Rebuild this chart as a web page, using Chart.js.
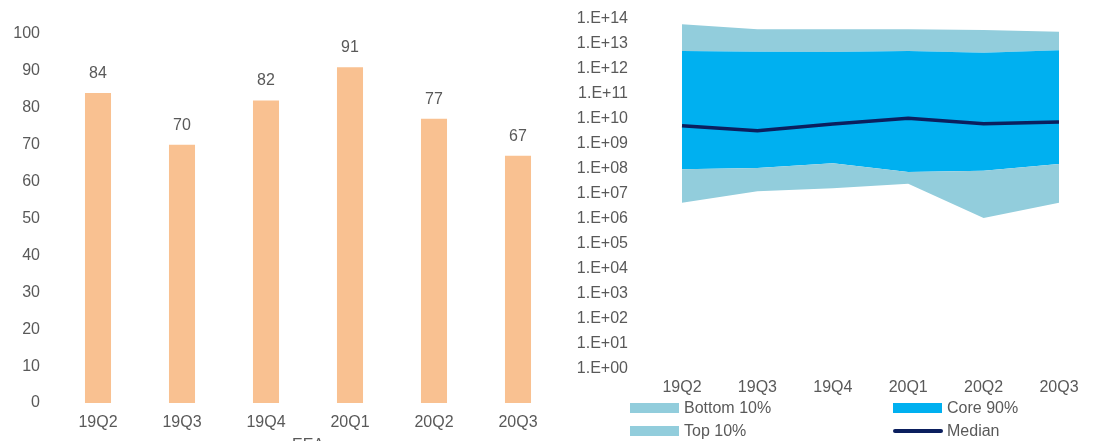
<!DOCTYPE html>
<html>
<head>
<meta charset="utf-8">
<script src="https://cdn.jsdelivr.net/npm/chart.js@4"></script>
<style>
  html, body { margin: 0; padding: 0; background: #fff; overflow: hidden; width: 1113px; height: 441px; }
  #left { position: absolute; left: 0; top: 0; width: 565px; height: 455px; }
  #right { position: absolute; left: 565px; top: 0; width: 548px; height: 441px; }
  .leg { position: absolute; font-family: "Liberation Sans", Arial, sans-serif; font-size: 16px; color: #595959; line-height: 18px; }
  .leg .box { position: absolute; left: 0; top: 4px; width: 49px; height: 10px; }
  .leg .ln { position: absolute; left: 0; top: 7px; width: 50px; height: 4px; border-radius: 2px; }
  .leg span { position: absolute; left: 54px; top: 0; white-space: nowrap; }
</style>
</head>
<body>
<div id="left"><canvas id="barChart"></canvas></div>
<div id="right"><canvas id="bandChart"></canvas></div>
<div id="legend"></div>
<script>
// ---- data ----
const quarters = ['19Q2', '19Q3', '19Q4', '20Q1', '20Q2', '20Q3'];
const eeaValues = [84, 70, 82, 91, 77, 67];

const bottom10Low = [4.5e6, 1.3e7, 1.7e7, 2.6e7, 1.1e6, 4.5e6];
const coreLow = [9.8e7, 1.1e8, 1.7e8, 7.6e7, 8.5e7, 1.6e8];
const coreHigh = [5.2e12, 4.9e12, 4.8e12, 5.2e12, 4.5e12, 5.6e12];
const top10High = [6.2e13, 3.9e13, 3.9e13, 3.9e13, 3.6e13, 3.1e13];
const medianValues = [5.4e9, 3.4e9, 6.3e9, 1.07e10, 6.5e9, 7.6e9];

const logTicks = [1, 1e1, 1e2, 1e3, 1e4, 1e5, 1e6, 1e7, 1e8, 1e9, 1e10, 1e11, 1e12, 1e13, 1e14];

const textColor = '#595959';
const font = { family: '"Liberation Sans", Arial, sans-serif', size: 16 };

Chart.defaults.font.family = font.family;
Chart.defaults.font.size = 16;
Chart.defaults.color = textColor;
Chart.defaults.animation = false;

// labels above the bars
const barLabels = {
  id: 'barLabels',
  afterDatasetsDraw(chart) {
    const ctx = chart.ctx;
    const meta = chart.getDatasetMeta(0);
    ctx.save();
    ctx.fillStyle = textColor;
    ctx.font = '16px ' + font.family;
    ctx.textAlign = 'center';
    ctx.textBaseline = 'alphabetic';
    meta.data.forEach((bar, i) => {
      ctx.fillText(String(eeaValues[i]), bar.x, bar.y - 15);
    });
    ctx.restore();
  }
};

new Chart(document.getElementById('barChart'), {
  type: 'bar',
  data: {
    labels: quarters,
    datasets: [{
      data: eeaValues,
      backgroundColor: '#F9C191',
      borderWidth: 0,
      barPercentage: 0.31,
      categoryPercentage: 1
    }]
  },
  options: {
    responsive: true,
    maintainAspectRatio: false,
    devicePixelRatio: 1,
    layout: { padding: { top: 34, right: 5, left: 0, bottom: 0 } },
    plugins: { legend: { display: false }, tooltip: { enabled: false } },
    scales: {
      x: {
        grid: { display: false, drawTicks: false },
        border: { display: false },
        ticks: { padding: 10, maxRotation: 0 },
        title: { display: true, text: 'EEA', padding: 0, color: textColor, font: font },
        afterFit(scale) { scale.height = 52; }
      },
      y: {
        min: 0,
        max: 100,
        grid: { display: false, drawTicks: false },
        border: { display: false },
        ticks: { stepSize: 10, padding: 16 },
        afterFit(scale) { scale.width = 56; }
      }
    }
  },
  plugins: [barLabels]
});

const bandChart = new Chart(document.getElementById('bandChart'), {
  type: 'line',
  data: {
    labels: quarters,
    datasets: [
      { label: 'low', data: bottom10Low, borderWidth: 0, pointRadius: 0, fill: false, backgroundColor: '#92CDDC', order: 2 },
      { label: 'Bottom 10%', data: coreLow, borderWidth: 0, pointRadius: 0, fill: 0, backgroundColor: '#92CDDC', order: 2 },
      { label: 'Core 90%', data: coreHigh, borderWidth: 0, pointRadius: 0, fill: 1, backgroundColor: '#00B0F0', order: 2 },
      { label: 'Top 10%', data: top10High, borderWidth: 0, pointRadius: 0, fill: 2, backgroundColor: '#92CDDC', order: 2 },
      { label: 'Median', data: medianValues, borderWidth: 3.5, borderColor: '#0B1F5E', pointRadius: 0, fill: false, backgroundColor: '#0B1F5E', order: 0 }
    ]
  },
  options: {
    responsive: true,
    maintainAspectRatio: false,
    devicePixelRatio: 1,
    layout: { padding: { top: 19, right: 54, left: 0, bottom: 0 } },
    plugins: { legend: { display: false }, tooltip: { enabled: false } },
    elements: { line: { tension: 0 } },
    scales: {
      x: {
        offset: false,
        grid: { display: false, drawTicks: false },
        border: { display: false },
        ticks: { padding: 9, maxRotation: 0, autoSkip: false },
        afterFit(scale) { scale.height = 72; }
      },
      y: {
        type: 'logarithmic',
        min: 1,
        max: 1e14,
        grid: { display: false, drawTicks: false },
        border: { display: false },
        afterBuildTicks(scale) {
          scale.ticks = logTicks.map(v => ({ value: v }));
        },
        ticks: {
          padding: 54,
          autoSkip: false,
          callback(value) {
            const exp = Math.round(Math.log10(value));
            return '1.E+' + String(exp).padStart(2, '0');
          }
        },
        afterFit(scale) {
          scale.width = 117;
          // tick padding is only meant horizontally here
          scale.paddingTop = 9;
          scale.paddingBottom = 9;
        }
      }
    }
  }
});

// legend in two columns
const legendPos = [
  { idx: 1, x: 630, y: 399 },
  { idx: 2, x: 893, y: 399 },
  { idx: 3, x: 630, y: 422 },
  { idx: 4, x: 893, y: 422 }
];
const legendEl = document.getElementById('legend');
legendPos.forEach(p => {
  const ds = bandChart.data.datasets[p.idx];
  const item = document.createElement('div');
  item.className = 'leg';
  item.style.left = p.x + 'px';
  item.style.top = p.y + 'px';
  const mark = document.createElement('div');
  mark.className = ds.label === 'Median' ? 'ln' : 'box';
  mark.style.background = ds.label === 'Median' ? ds.borderColor : ds.backgroundColor;
  const txt = document.createElement('span');
  txt.textContent = ds.label;
  item.appendChild(mark);
  item.appendChild(txt);
  legendEl.appendChild(item);
});
</script>
</body>
</html>
